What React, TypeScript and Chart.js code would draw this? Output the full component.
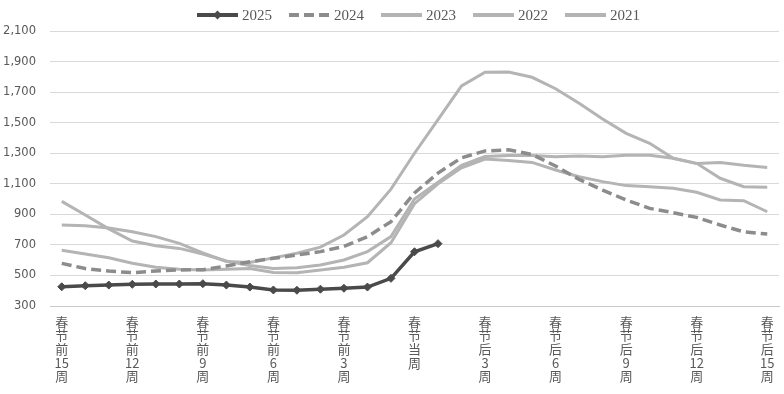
import React, { useEffect, useRef } from 'react';
import { Chart, registerables } from 'chart.js';

Chart.register(...registerables);

const categories: string[] = [
  '春节前15周', '春节前14周', '春节前13周', '春节前12周', '春节前11周', '春节前10周',
  '春节前9周', '春节前8周', '春节前7周', '春节前6周', '春节前5周', '春节前4周',
  '春节前3周', '春节前2周', '春节前1周', '春节当周',
  '春节后1周', '春节后2周', '春节后3周', '春节后4周', '春节后5周', '春节后6周',
  '春节后7周', '春节后8周', '春节后9周', '春节后10周', '春节后11周', '春节后12周',
  '春节后13周', '春节后14周', '春节后15周',
];

const seriesNames = ['2025', '2024', '2023', '2022', '2021'];

const values2025 = [426, 433, 437, 442, 444, 444, 446, 437, 424, 405, 403, 410, 416, 424, 481, 655, 708];
const values2024 = [579, 545, 529, 518, 529, 536, 538, 562, 590, 612, 634, 656, 690, 754, 852, 1040, 1170, 1270, 1315, 1322, 1292, 1216, 1129, 1059, 994, 939, 911, 880, 830, 786, 771];
const values2023 = [665, 640, 616, 580, 553, 540, 536, 540, 545, 520, 518, 536, 553, 583, 714, 970, 1100, 1205, 1262, 1252, 1240, 1190, 1146, 1114, 1088, 1081, 1070, 1044, 994, 989, 917];
const values2022 = [985, 896, 805, 725, 695, 677, 640, 595, 565, 545, 550, 568, 601, 656, 754, 1000, 1110, 1220, 1278, 1285, 1285, 1277, 1281, 1277, 1286, 1286, 1267, 1232, 1240, 1221, 1207];
const values2021 = [830, 826, 810, 786, 754, 710, 648, 592, 585, 615, 645, 685, 765, 885, 1065, 1300, 1520, 1740, 1830, 1832, 1797, 1722, 1627, 1524, 1430, 1365, 1267, 1234, 1136, 1081, 1077];

const yMin = 300;
const yMax = 2100;
const yStep = 200;

function splitLabel(s: string): string[] {
  const out: string[] = [];
  let num = '';
  for (const ch of s) {
    if (/[0-9]/.test(ch)) {
      num += ch;
    } else {
      if (num) { out.push(num); num = ''; }
      out.push(ch);
    }
  }
  if (num) out.push(num);
  return out;
}

const customLegend = {
  id: 'customLegend',
  afterDraw(chart: any) {
    const ctx = chart.ctx;
    const area = chart.chartArea;
    const font = '15px "Liberation Serif", serif';
    ctx.save();
    ctx.font = font;
    const lineW = 41;
    const gap = 4;
    const itemGap = 17;
    const items = chart.data.datasets.map((ds: any) => ({
      ds,
      tw: ctx.measureText(ds.label).width,
    }));
    const total = items.reduce((s: number, it: any) => s + lineW + gap + it.tw, 0) + itemGap * (items.length - 1);
    const cx = (area.left + area.right) / 2 + 4;
    let x = cx - total / 2;
    const y = 15;
    items.forEach((it: any, i: number) => {
      const ds = it.ds;
      ctx.beginPath();
      ctx.lineWidth = 4;
      ctx.lineCap = 'butt';
      ctx.strokeStyle = ds.borderColor;
      ctx.setLineDash(ds.borderDash ? [10, 5] : []);
      ctx.moveTo(x, y);
      ctx.lineTo(x + lineW, y);
      ctx.stroke();
      ctx.setLineDash([]);
      if (i === 0) {
        const mx = x + lineW / 2;
        const r = 4.5;
        ctx.fillStyle = ds.borderColor;
        ctx.beginPath();
        ctx.moveTo(mx, y - r);
        ctx.lineTo(mx + r, y);
        ctx.lineTo(mx, y + r);
        ctx.lineTo(mx - r, y);
        ctx.closePath();
        ctx.fill();
      }
      ctx.fillStyle = '#595959';
      ctx.textBaseline = 'middle';
      ctx.textAlign = 'left';
      ctx.fillText(ds.label, x + lineW + gap, y + 1);
      x += lineW + gap + it.tw + itemGap;
    });
    ctx.restore();
  },
};

export default function App() {
  const canvasRef = useRef<HTMLCanvasElement | null>(null);

  useEffect(() => {
    document.body.style.margin = '0';
    const canvas = canvasRef.current;
    if (!canvas) return;
    const light = '#b4b4b4';
    const chart = new Chart(canvas, {
      type: 'line',
      data: {
        labels: categories,
        datasets: [
          {
            label: seriesNames[0],
            data: values2025,
            borderColor: '#4a4a4a',
            backgroundColor: '#4a4a4a',
            borderWidth: 3.5,
            pointStyle: 'rectRot',
            pointRadius: 4,
            pointBackgroundColor: '#4a4a4a',
            pointBorderColor: '#4a4a4a',
            pointBorderWidth: 1,
            tension: 0,
          },
          {
            label: seriesNames[1],
            data: values2024,
            borderColor: '#8c8c8c',
            backgroundColor: '#8c8c8c',
            borderWidth: 3.5,
            borderDash: [10, 5],
            pointRadius: 0,
            tension: 0,
          },
          {
            label: seriesNames[2],
            data: values2023,
            borderColor: light,
            backgroundColor: light,
            borderWidth: 3,
            pointRadius: 0,
            tension: 0,
          },
          {
            label: seriesNames[3],
            data: values2022,
            borderColor: light,
            backgroundColor: light,
            borderWidth: 3,
            pointRadius: 0,
            tension: 0,
          },
          {
            label: seriesNames[4],
            data: values2021,
            borderColor: light,
            backgroundColor: light,
            borderWidth: 3,
            pointRadius: 0,
            tension: 0,
          },
        ],
      },
      options: {
        animation: false,
        responsive: true,
        maintainAspectRatio: false,
        layout: { padding: { left: 2, right: 4, top: 31, bottom: 0 } },
        plugins: {
          tooltip: { enabled: false },
          legend: { display: false },
        },
        scales: {
          x: {
            offset: true,
            grid: { display: false, drawTicks: false },
            border: { display: true, color: '#c8c8c8', width: 1 },
            afterFit: (scale: any) => { scale.height = 88; },
            ticks: {
              autoSkip: false,
              maxRotation: 0,
              minRotation: 0,
              padding: 9,
              color: '#595959',
              font: { family: '"Noto Sans CJK SC", sans-serif', size: 13, lineHeight: 1.05 },
              callback: (_v: any, index: number) => (index % 3 === 0 ? splitLabel(categories[index]) : ''),
            },
          },
          y: {
            min: yMin,
            max: yMax,
            afterFit: (scale: any) => { scale.width = 48; },
            ticks: {
              stepSize: yStep,
              padding: 14,
              color: '#595959',
              font: { family: '"DejaVu Sans", sans-serif', size: 11.5 },
            },
            grid: { color: '#d9d9d9', lineWidth: 1, drawTicks: false },
            border: { display: false },
          },
        },
      },
      plugins: [customLegend],
    });
    return () => chart.destroy();
  }, []);

  return (
    <div style={{ position: 'relative', width: 784, height: 394 }}>
      <canvas ref={canvasRef} />
    </div>
  );
}
